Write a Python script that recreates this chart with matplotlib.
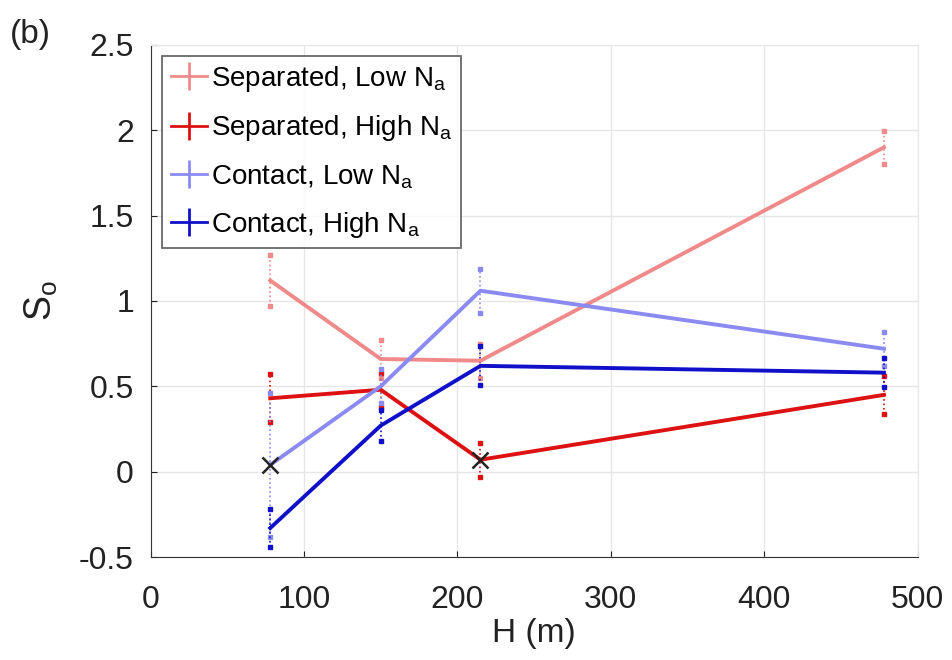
import matplotlib
matplotlib.use("Agg")
import matplotlib.pyplot as plt
import numpy as np

# depth H (m) for each survey
h = [78, 150, 215, 478]

sep_low = [1.12, 0.66, 0.65, 1.90]
sep_low_err = [0.15, 0.11, 0.10, 0.095]
sep_high = [0.43, 0.48, 0.07, 0.45]
sep_high_err = [0.14, 0.10, 0.10, 0.11]
con_low = [0.04, 0.50, 1.06, 0.72]
con_low_err = [0.42, 0.10, 0.13, 0.10]
con_high = [-0.33, 0.27, 0.62, 0.58]
con_high_err = [0.11, 0.09, 0.115, 0.085]

labels = ["Separated, Low N$_\\mathregular{a}$", "Separated, High N$_\\mathregular{a}$",
          "Contact, Low N$_\\mathregular{a}$", "Contact, High N$_\\mathregular{a}$"]
colors = ["#F08A8A", "#DD1111", "#8A8AF2", "#1010C8"]

# points flagged with a cross
cross_x = [78, 215]
cross_y = [0.04, 0.07]

plt.rcParams["font.family"] = ["Liberation Sans", "DejaVu Sans"]
fig = plt.figure(figsize=(9.53, 6.6), dpi=100)
ax = fig.add_axes([0.158, 0.156, 0.805, 0.776])

series = [(sep_low, sep_low_err), (sep_high, sep_high_err),
          (con_low, con_low_err), (con_high, con_high_err)]
handles = []
for (y, e), c, lab in zip(series, colors, labels):
    y = np.array(y)
    e = np.array(e)
    ax.plot(h, y, color=c, lw=2.8, zorder=3)
    for xi, yi, ei in zip(h, y, e):
        ax.plot([xi, xi], [yi - ei, yi + ei], color=c, lw=1.2, ls=":", zorder=2)
        ax.plot([xi, xi], [yi - ei, yi + ei], ls="none", marker="s", ms=3.5, color=c, zorder=2)
    hd = ax.errorbar([], [], yerr=[], color=c, lw=2, capsize=4, label=lab)
    handles.append(hd)

ax.plot(cross_x, cross_y, ls="none", marker="x", ms=12, mew=1.8, color="#222222", zorder=4)

ax.set_xlim(0, 500)
ax.set_ylim(-0.5, 2.5)
ax.set_xticks([0, 100, 200, 300, 400, 500])
ax.set_yticks([-0.5, 0, 0.5, 1, 1.5, 2, 2.5])
ax.set_yticklabels(["-0.5", "0", "0.5", "1", "1.5", "2", "2.5"])
ax.grid(True, color="#E6E6E6", lw=1)
ax.set_axisbelow(True)
for s in ["top", "right"]:
    ax.spines[s].set_color("#E6E6E6")
for s in ["left", "bottom"]:
    ax.spines[s].set_color("#333333")
ax.tick_params(labelsize=23, colors="#222222", direction="in", length=4)
ax.tick_params(axis="x", pad=20)
ax.tick_params(axis="y", pad=12)
ax.set_xlabel("H (m)", fontsize=24, color="#222222", labelpad=2)
ax.set_ylabel("S$_\\mathregular{o}$", fontsize=27, color="#222222", labelpad=14)

leg = ax.legend(handles=handles, loc="upper left", fontsize=20, frameon=True, fancybox=False,
                edgecolor="#444444", handlelength=1.3, handletextpad=0.15, borderpad=0.3,
                labelspacing=0.7, bbox_to_anchor=(0.008, 0.99), borderaxespad=0.2)
leg.get_frame().set_linewidth(1.3)

fig.text(0.01, 0.935, "(b)", fontsize=24, color="#222222")

fig.savefig("out.png", dpi=100)
